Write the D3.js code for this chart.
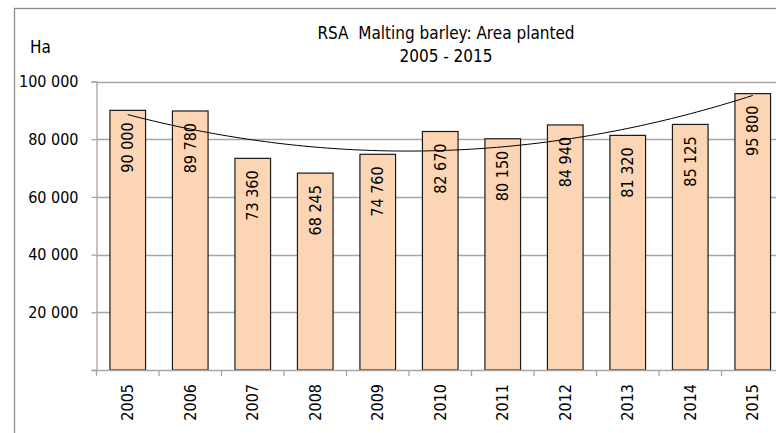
<!DOCTYPE html>
<html>
<head>
<meta charset="utf-8">
<script src="https://cdn.jsdelivr.net/npm/d3@7"></script>
<style>
  body { margin:0; background:#fff; }
  text { font-family: Tahoma, "DejaVu Sans Condensed", "Liberation Sans", sans-serif; fill:#000; }
</style>
</head>
<body>
<div id="chart"></div>
<script>
const years  = ["2005","2006","2007","2008","2009","2010","2011","2012","2013","2014","2015"]
const area   = [90000, 89780, 73360, 68245, 74760, 82670, 80150, 84940, 81320, 85125, 95800]
const yTicks = [20000, 40000, 60000, 80000, 100000]
const titleLines = ["RSA  Malting barley: Area planted", "2005 - 2015"]
const unitLabel = "Ha"

const W = 776, H = 433
const plot = {left:96.5, right:784, top:81.5, bottom:370}

const fmt = v => d3.format(",")(v).replace(/,/g, " ")

const svg = d3.select("#chart")
  .append("svg")
    .attr("width", W)
    .attr("height", H)

// outer chart frame (right/bottom run off the picture)
svg.append("rect")
  .attr("x", 14.5).attr("y", 8.5)
  .attr("width", W + 20).attr("height", H + 20)
  .attr("fill", "none")
  .attr("stroke", "#8c8c8c")
  .attr("stroke-width", 1.3)

const x = d3.scaleBand().domain(years).range([plot.left, plot.right]).padding(0)
const y = d3.scaleLinear().domain([0, 100000]).range([plot.bottom, plot.top])

// gridlines
svg.append("g")
  .selectAll("line")
  .data(yTicks)
  .enter()
  .append("line")
    .attr("x1", plot.left)
    .attr("x2", W)
    .attr("y1", d => Math.round(y(d)) + 0.5)
    .attr("y2", d => Math.round(y(d)) + 0.5)
    .attr("stroke", "#a6a6a6")
    .attr("stroke-width", 1.3)

// y axis
const yAxis = svg.append("g")
  .attr("transform", "translate(" + plot.left + ",0)")
  .call(d3.axisLeft(y)
    .tickValues(yTicks)
    .tickSize(5)
    .tickPadding(13)
    .tickFormat(fmt))
yAxis.select(".domain").attr("stroke", "#a6a6a6").attr("stroke-width", 1.3)
yAxis.selectAll(".tick line").attr("stroke", "#a6a6a6").attr("stroke-width", 1.3)
yAxis.selectAll(".tick text").style("font-size", "16px").attr("fill", "#000")

// bars
const barW = x.bandwidth() * 0.57
svg.append("g")
  .selectAll("rect")
  .data(area)
  .enter()
  .append("rect")
    .attr("x", (d, i) => x(years[i]) + (x.bandwidth() - barW) / 2)
    .attr("y", d => y(d))
    .attr("width", barW)
    .attr("height", d => y(0) - y(d))
    .attr("fill", "#fcd5b5")
    .attr("stroke", "#1a1a1a")
    .attr("stroke-width", 1.2)

// x axis
const xAxis = svg.append("g")
  .attr("transform", "translate(0," + plot.bottom + ")")
  .call(d3.axisBottom(x).tickSize(0).tickFormat(d => d))
xAxis.select(".domain").remove()
xAxis.append("line")
  .attr("x1", plot.left - 5).attr("x2", W)
  .attr("y1", 0.5).attr("y2", 0.5)
  .attr("stroke", "#a6a6a6").attr("stroke-width", 1.3)
xAxis.selectAll(null)
  .data(years)
  .enter()
  .append("line")
    .attr("x1", d => x(d)).attr("x2", d => x(d))
    .attr("y1", 0).attr("y2", 6)
    .attr("stroke", "#a6a6a6").attr("stroke-width", 1.3)
xAxis.selectAll(".tick text")
  .style("font-size", "16px")
  .attr("fill", "#000")
  .attr("text-anchor", "end")
  .attr("dy", "0.35em")
  .attr("transform", "translate(0,14) rotate(-90)")
  .attr("x", 0).attr("y", 0)

// polynomial (order 2) trendline, least squares on the bar values
const n = area.length
const ts = area.map((d, i) => i - (n - 1) / 2)
const S2 = d3.sum(ts, t => t * t), S4 = d3.sum(ts, t => t ** 4)
const Sy = d3.sum(area), Sty = d3.sum(area, (d, i) => d * ts[i]), St2y = d3.sum(area, (d, i) => d * ts[i] ** 2)
const b = Sty / S2
const c = (St2y - S2 * Sy / n) / (S4 - S2 * S2 / n)
const a = (Sy - c * S2) / n
const xc = d3.scaleLinear().domain([ts[0], ts[n - 1]])
  .range([x(years[0]) + x.bandwidth() / 2, x(years[n - 1]) + x.bandwidth() / 2])
const trend = d3.range(0, 101).map(k => {
  const t = ts[0] + (ts[n - 1] - ts[0]) * k / 100
  return [xc(t), y(a + b * t + c * t * t)]
})
svg.append("path")
  .attr("d", d3.line()(trend))
  .attr("fill", "none")
  .attr("stroke", "#000")
  .attr("stroke-width", 1)

// data labels inside the bar ends
svg.append("g")
  .selectAll("text")
  .data(area)
  .enter()
  .append("text")
    .attr("transform", (d, i) => "translate(" + (x(years[i]) + x.bandwidth() / 2) + "," + (y(d) + 12) + ") rotate(-90)")
    .attr("text-anchor", "end")
    .attr("dy", "0.35em")
    .style("font-size", "16px")
    .text(fmt)

// title
svg.append("g")
  .selectAll("text")
  .data(titleLines)
  .enter()
  .append("text")
    .attr("x", 446)
    .attr("y", (d, i) => 39 + i * 23)
    .attr("text-anchor", "middle")
    .style("font-size", "17px")
    .style("white-space", "pre")
    .text(d => d)

svg.append("text")
  .attr("x", 30)
  .attr("y", 53)
  .style("font-size", "17px")
  .text(unitLabel)
</script>
</body>
</html>
